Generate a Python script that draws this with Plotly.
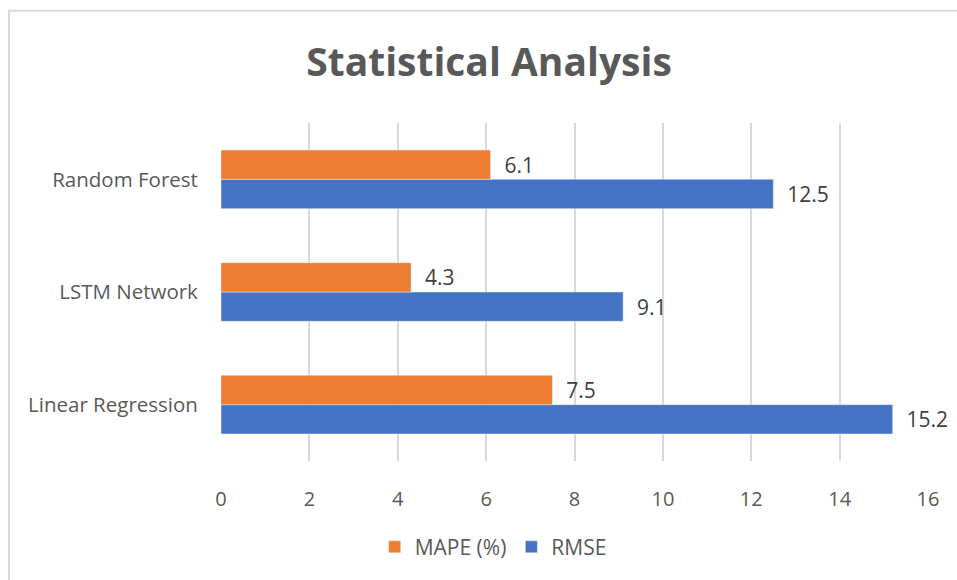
import plotly.graph_objects as go

categories = ["Linear Regression", "LSTM Network", "Random Forest"]
rmse = [15.2, 9.1, 12.5]
mape = [7.5, 4.3, 6.1]
tick_vals = [0, 2, 4, 6, 8, 10, 12, 14, 16]

FONT = "Open Sans"
GREY = "#595959"
PAD = "\u00a0\u00a0"

fig = go.Figure()
fig.add_trace(go.Bar(
    y=categories, x=rmse, orientation="h", name="RMSE",
    marker=dict(color="#4472C4"),
    text=[PAD + f"{v:.1f}" for v in rmse], textposition="outside",
    textfont=dict(size=21, color="#404040", family=FONT), cliponaxis=False,
))
fig.add_trace(go.Bar(
    y=categories, x=mape, orientation="h", name="MAPE (%)",
    marker=dict(color="#ED7D31"),
    text=[PAD + f"{v:.1f}" for v in mape], textposition="outside",
    textfont=dict(size=21, color="#404040", family=FONT), cliponaxis=False,
))

fig.update_layout(
    width=957, height=580,
    margin=dict(l=221, r=29, t=123, b=117),
    paper_bgcolor="white", plot_bgcolor="white",
    barmode="group", bargap=0.48, bargroupgap=0,
    title=dict(text="<b>Statistical Analysis</b>", x=0.511, xanchor="center",
               y=0.893, yanchor="middle",
               font=dict(family=FONT, size=39, color=GREY)),
    xaxis=dict(range=[0, 16], tickvals=tick_vals, showgrid=True,
               gridcolor="#D9D9D9", gridwidth=1.5, zeroline=False,
               tickfont=dict(family=FONT, size=20, color=GREY),
               ticks="outside", ticklen=20, tickcolor="rgba(0,0,0,0)",
               showline=False),
    yaxis=dict(type="category", categoryorder="array", categoryarray=categories,
               tickfont=dict(family=FONT, size=20.5, color=GREY),
               ticks="outside", ticklen=18, tickcolor="rgba(0,0,0,0)",
               showgrid=False, showline=False),
    legend=dict(orientation="h", x=0.385, xanchor="center", y=-0.255, yanchor="middle",
                traceorder="reversed",
                font=dict(family=FONT, size=21, color=GREY)),
    shapes=[dict(type="rect", xref="paper", yref="paper",
                 x0=(9 - 221) / 707, x1=(990 - 221) / 707,
                 y0=-(600 - 463) / 340, y1=1 + 113 / 340,
                 line=dict(color="#D9D9D9", width=2), layer="below")],
)

fig.write_html("out.html", config={"displayModeBar": False},
               post_script="document.body.style.margin='0';")
